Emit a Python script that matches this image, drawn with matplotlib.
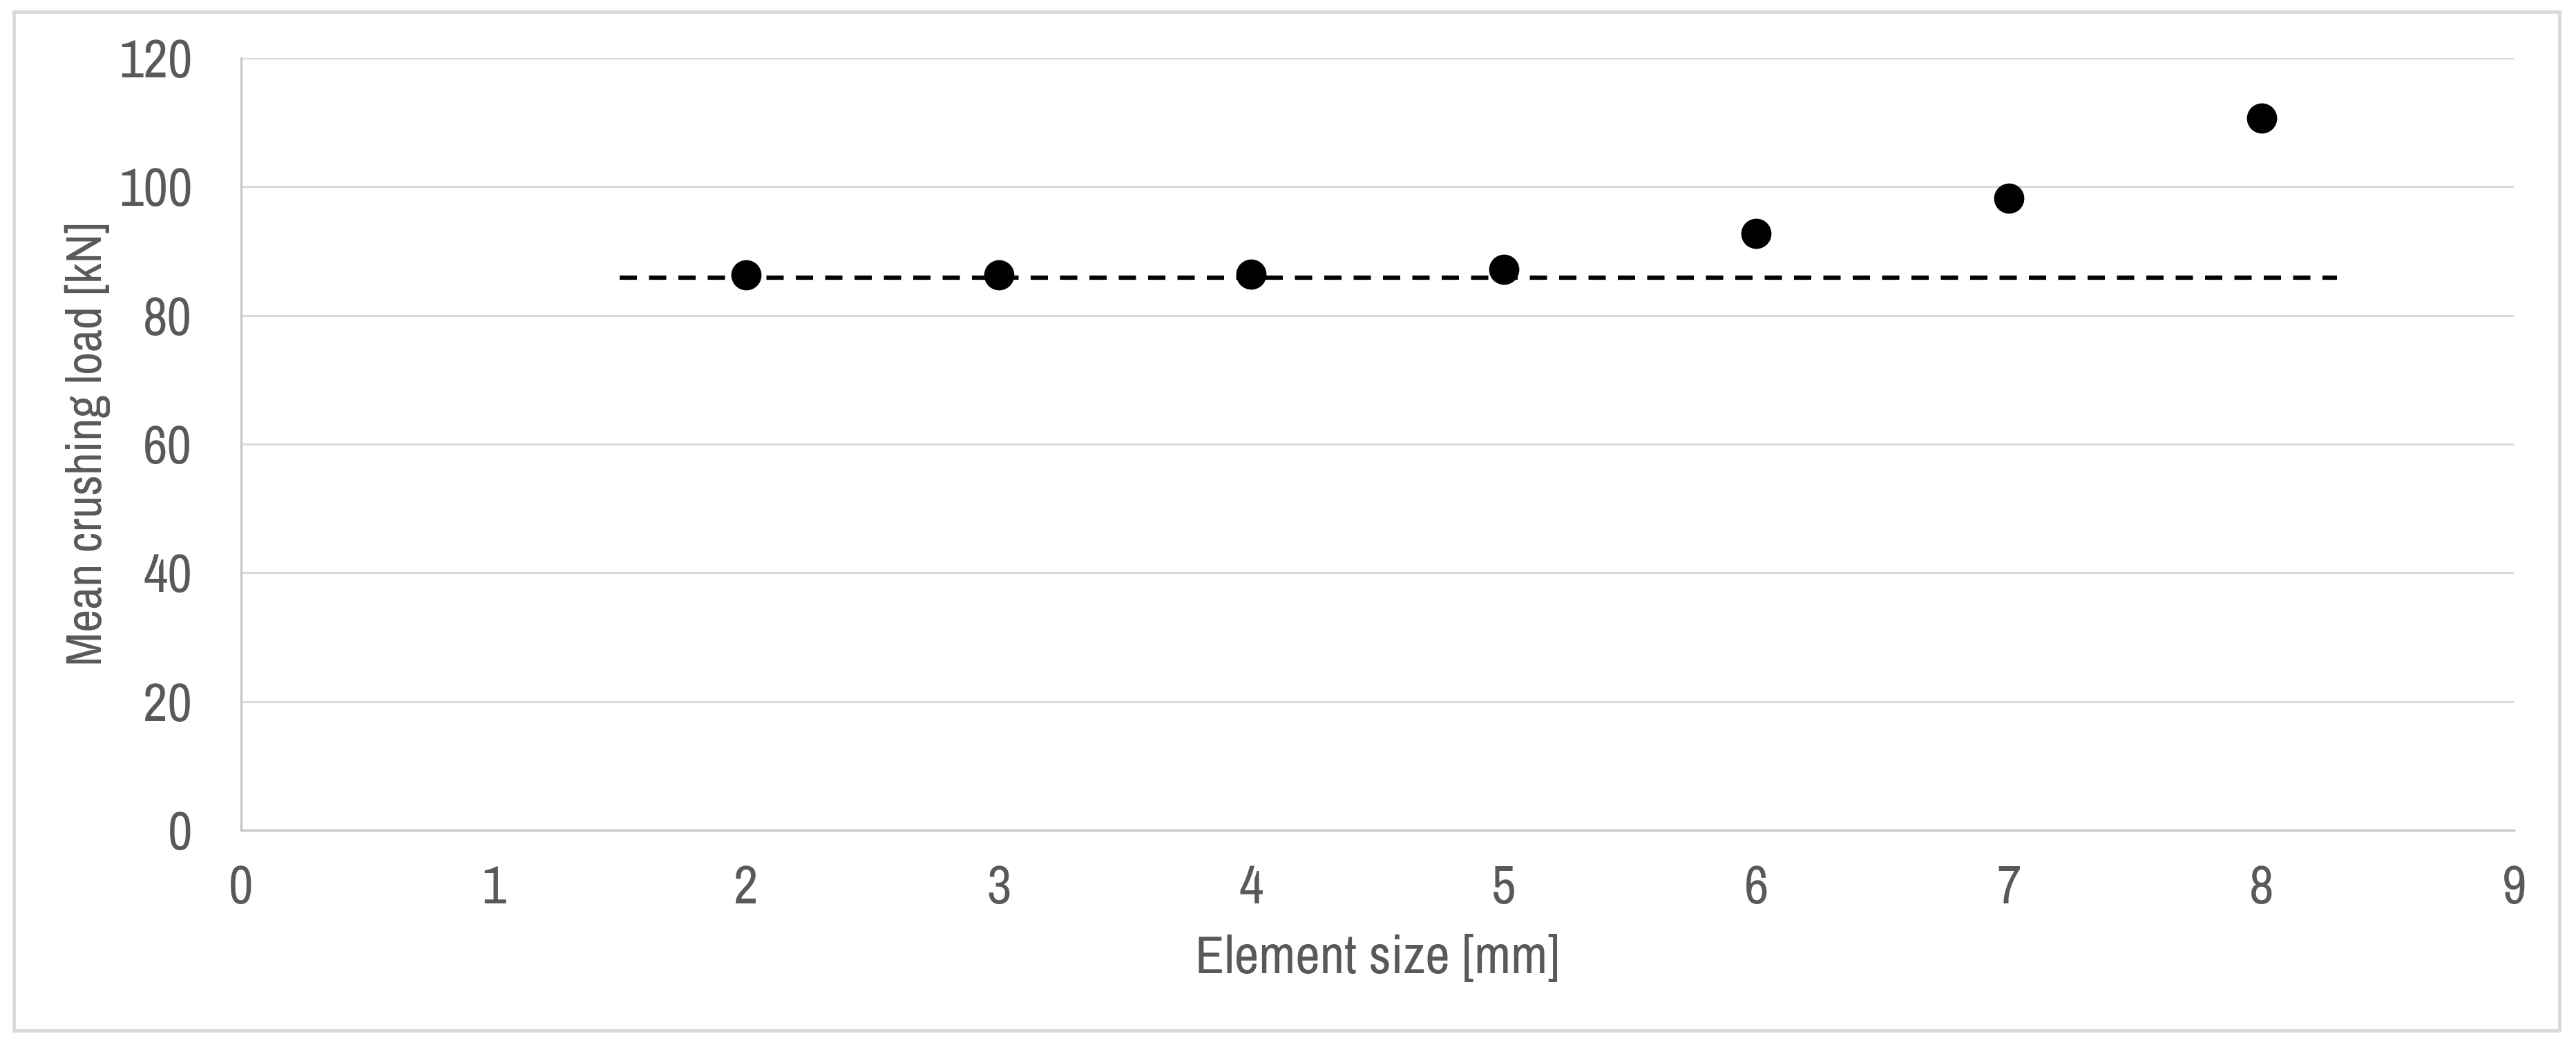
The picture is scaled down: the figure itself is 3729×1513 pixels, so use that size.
import matplotlib
matplotlib.use("Agg")
import matplotlib.pyplot as plt
from matplotlib.patches import Rectangle

# data
element_size = [2, 3, 4, 5, 6, 7, 8]
mean_load = [86.3, 86.3, 86.4, 87.2, 92.7, 98.2, 110.7]
ref_x = [1.5, 8.3]          # converged reference level (dashed)
ref_load = [85.9, 85.9]
x_ticks = list(range(0, 10))
y_ticks = list(range(0, 121, 20))

GREY = "#595959"
GRID = "#d9d9d9"

plt.rcParams["font.family"] = ["Archivo Narrow", "Roboto Condensed", "DejaVu Sans"]

fig = plt.figure(figsize=(37.29, 15.13), dpi=100)
ax = fig.add_axes([0.0936, 0.2055, 0.8823, 0.7390])

ax.plot(ref_x, ref_load, color="black", lw=4.5, dashes=(4, 2.8),
        dash_capstyle="butt", zorder=3)
ax.plot(element_size, mean_load, "o", color="black", ms=31.5, mec="none", zorder=4)

ax.set_xlim(0, 9); ax.set_ylim(0, 120)
ax.set_xticks(x_ticks); ax.set_yticks(y_ticks)
ax.yaxis.grid(True, color=GRID, lw=2.2)
ax.set_axisbelow(True)
for s in ("top", "right"):
    ax.spines[s].set_visible(False)
for s in ("left", "bottom"):
    ax.spines[s].set_color("#c8c8c8"); ax.spines[s].set_linewidth(2.4)
ax.tick_params(axis="both", length=0, labelsize=56, labelcolor=GREY)
ax.tick_params(axis="x", pad=36)
ax.tick_params(axis="y", pad=51)

ax.set_xlabel("Element size [mm]", fontsize=56, color=GREY)
ax.set_ylabel("Mean crushing load [kN]", fontsize=52, color=GREY)
ax.xaxis.set_label_coords(0.5, -0.134)
ax.yaxis.set_label_coords(-0.0575, 0.5)

# light frame round the whole chart
fig.patches.append(Rectangle((20 / 3729, 1 - 1492 / 1513), 3685 / 3729, 1475 / 1513,
                             transform=fig.transFigure, fill=False,
                             ec=GRID, lw=3.5))

fig.savefig("out.png", dpi=100, facecolor="white")
